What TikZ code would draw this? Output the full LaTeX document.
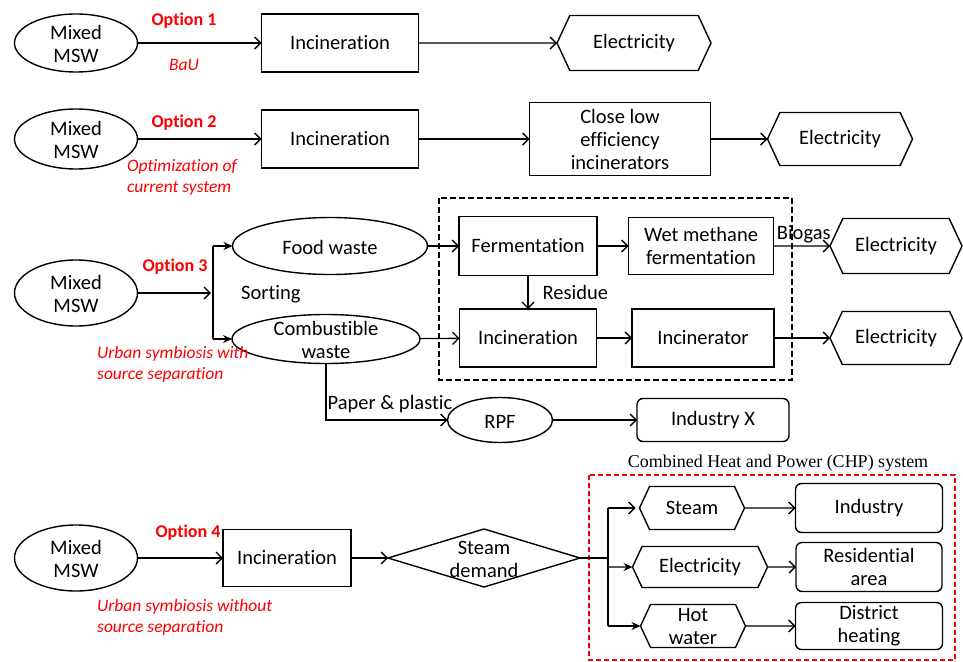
\documentclass[tikz,border=0pt]{standalone}
\usepackage{fontspec}
\setmainfont[Ligatures=NoCommon]{Carlito}
\newfontfamily\timesf{Liberation Serif}
\usetikzlibrary{shapes.geometric,shapes.symbols,arrows.meta}
\newcommand\zt[1]{\makebox[0pt]{\raisebox{-0.42em}[0pt][0pt]{\begin{tabular}{@{}c@{}}#1\end{tabular}}}}
\newcommand\nfont{\fontsize{20.5}{23}\selectfont}
\newcommand\rfont{\fontsize{17.5}{21}\selectfont}
\begin{document}
\begin{tikzpicture}[x=1pt,y=-1pt,
  base/.style={draw,line width=1.4pt,font=\nfont,inner sep=1pt,outer sep=0pt,align=center},
  bx/.style={base,rectangle},
  rbx/.style={base,rectangle,rounded corners=6pt},
  ell/.style={base,ellipse,inner sep=0pt},
  hexa/.style={base,signal,signal to=west and east,signal pointer angle=130,inner sep=0pt},
  dia/.style={base,diamond,inner sep=0pt},
  arr/.style={line width=1.3pt,-{Straight Barb[length=6pt,width=12pt,line width=1.3pt]}},
  farr/.style={line width=1.3pt,-{Stealth[length=9pt,width=8pt]}},
  ln/.style={line width=1.3pt},
  opt/.style={text=red,font=\fontsize{18}{21}\selectfont\bfseries},
  sub/.style={text=red,font=\rfont\itshape,align=left,inner sep=0pt},
  lbl/.style={font=\nfont,inner sep=0pt}]
\useasboundingbox (0,0) rectangle (963,661);
% ---- Option 1
\node[ell,minimum width=123pt,minimum height=58pt] (m1) at (76,43) {\zt{Mixed\\MSW}};
\node[bx,minimum width=157pt,minimum height=58pt] (i1) at (340,43) {Incineration};
\node[hexa,minimum width=154pt,minimum height=55pt] (e1) at (634,43) {Electricity};
\node[opt] (o1) at (184,21) {Option 1};
\node[sub] (s1) at (184,65) {BaU};
\draw[arr] (m1) -- (i1);
\draw[arr] (i1) -- (e1);
% ---- Option 2
\node[ell,minimum width=123pt,minimum height=60pt] (m2) at (76,139) {\zt{Mixed\\MSW}};
\node[bx,minimum width=157pt,minimum height=58pt] (i2) at (340,139) {Incineration};
\node[bx,minimum width=181pt,minimum height=73pt] (c2) at (620,139) {Close low\\efficiency\\incinerators};
\node[hexa,minimum width=145pt,minimum height=53pt] (e2) at (840,139) {Electricity};
\node[opt] (o2) at (184,123) {Option 2};
\node[sub,anchor=west] (s2) at (127,177) {Optimization of\\current system};
\draw[arr] (m2) -- (i2);
\draw[arr] (i2) -- (c2);
\draw[arr] (c2) -- (e2);
% ---- Option 3
\node[ell,minimum width=123pt,minimum height=66pt] (m3) at (76,293) {\zt{Mixed\\MSW}};
\coordinate (sp) at (213,293);
\coordinate (st) at (213,246);
\coordinate (sb) at (213,339);
\node[ell,minimum width=195pt,minimum height=57pt] (fw) at (330,246) {\zt{Food waste}};
\node[ell,minimum width=188pt,minimum height=49pt] (cw) at (326,339) {\zt{Combustible\\waste}};
\node[bx,minimum width=138pt,minimum height=59pt] (fe) at (528,246) {Fermentation};
\node[bx,minimum width=145pt,minimum height=57pt] (wm) at (701,246) {Wet methane\\fermentation};
\node[bx,minimum width=137pt,minimum height=58pt] (i3) at (528,338) {Incineration};
\node[bx,minimum width=142pt,minimum height=58pt] (ir) at (703,338) {Incinerator};
\node[hexa,minimum width=132pt,minimum height=55pt] (e3) at (896,246) {Electricity};
\node[hexa,minimum width=132pt,minimum height=53pt] (e4) at (896,338) {Electricity};
\node[ell,minimum width=105pt,minimum height=45pt] (rpf) at (500,420) {\zt{RPF}};
\node[rbx,minimum width=152pt,minimum height=43pt] (ix) at (713,420) {Industry X};
\node[opt] (o3) at (175,267) {Option 3};
\node[lbl,anchor=west] (so) at (241,294) {Sorting};
\node[sub,anchor=west] (s3) at (97,364) {Urban symbiosis with\\source separation};
\draw[ln,dash pattern=on 6pt off 3pt,line width=2pt] (439,198) rectangle (792,380);
\draw[arr] (m3) -- ([xshift=-2pt]sp);
\draw[ln] (st) -- (sb);
\draw[farr] (st) -- (fw);
\draw[farr] (sb) -- (cw);
\draw[arr] (fw) -- (fe);
\draw[arr] (cw) -- (i3);
\draw[arr] (fe) -- (wm);
\draw[arr] (i3) -- (ir);
\draw[arr] (fe) -- node[lbl,anchor=west,xshift=14pt] (re) {Residue} (i3);
\draw[arr] (wm) -- node[lbl,above,inner sep=2pt,xshift=2pt] (bg) {Biogas} (e3);
\draw[arr] (ir) -- (e4);
\draw[arr] (cw.south) |- (rpf) node[lbl,pos=0.5,anchor=south west,yshift=7pt,xshift=1pt] (pp) {Paper \& plastic};
\draw[arr] (rpf) -- (ix);
% ---- Option 4
\node[ell,minimum width=123pt,minimum height=66pt] (m4) at (76,558) {\zt{Mixed\\MSW}};
\node[bx,minimum width=128pt,minimum height=57pt] (i4) at (287,558) {Incineration};
\node[dia,minimum width=192pt,minimum height=58pt] (sd) at (484,558) {\zt{Steam\\demand}};
\node[opt] (o4) at (188,533) {Option 4};
\node[sub,anchor=west] (s4) at (97,617) {Urban symbiosis without\\source separation};
\draw[arr] (m4) -- (i4);
\draw[arr] (i4) -- (sd);
% CHP
\draw[line width=1.6pt,red,dash pattern=on 5pt off 3pt] (589,475) rectangle (955,660);
\node[font=\timesf\fontsize{18}{20}\selectfont,inner sep=0pt] (chp) at (778,463) {Combined Heat and Power (CHP) system};
\node[hexa,minimum width=105pt,minimum height=43pt] (sm) at (692,508) {Steam};
\node[hexa,minimum width=135pt,minimum height=41pt] (el) at (700,567) {Electricity};
\node[hexa,minimum width=105pt,minimum height=43pt] (hw) at (693,626) {Hot\\water};
\node[rbx,minimum width=147pt,minimum height=49pt] (in) at (869,508) {Industry};
\node[rbx,minimum width=146pt,minimum height=49pt] (ra) at (869,567) {Residential\\area};
\node[rbx,minimum width=147pt,minimum height=47pt] (dh) at (869,626) {District\\heating};
\coordinate (br) at (608,558);
\coordinate (bt) at (608,508);
\coordinate (bm) at (608,567);
\coordinate (bb) at (608,626);
\draw[ln] (sd.east) -- (br);
\draw[ln] (bt) -- (bb);
\draw[arr] (bt) -- ([xshift=-4pt]sm.west);
\draw[farr] (bm) -- (el);
\draw[farr] (bb) -- (hw);
\draw[arr] (sm) -- (in);
\draw[arr] (el) -- (ra);
\draw[arr] (hw) -- (dh);
\end{tikzpicture}
\end{document}
